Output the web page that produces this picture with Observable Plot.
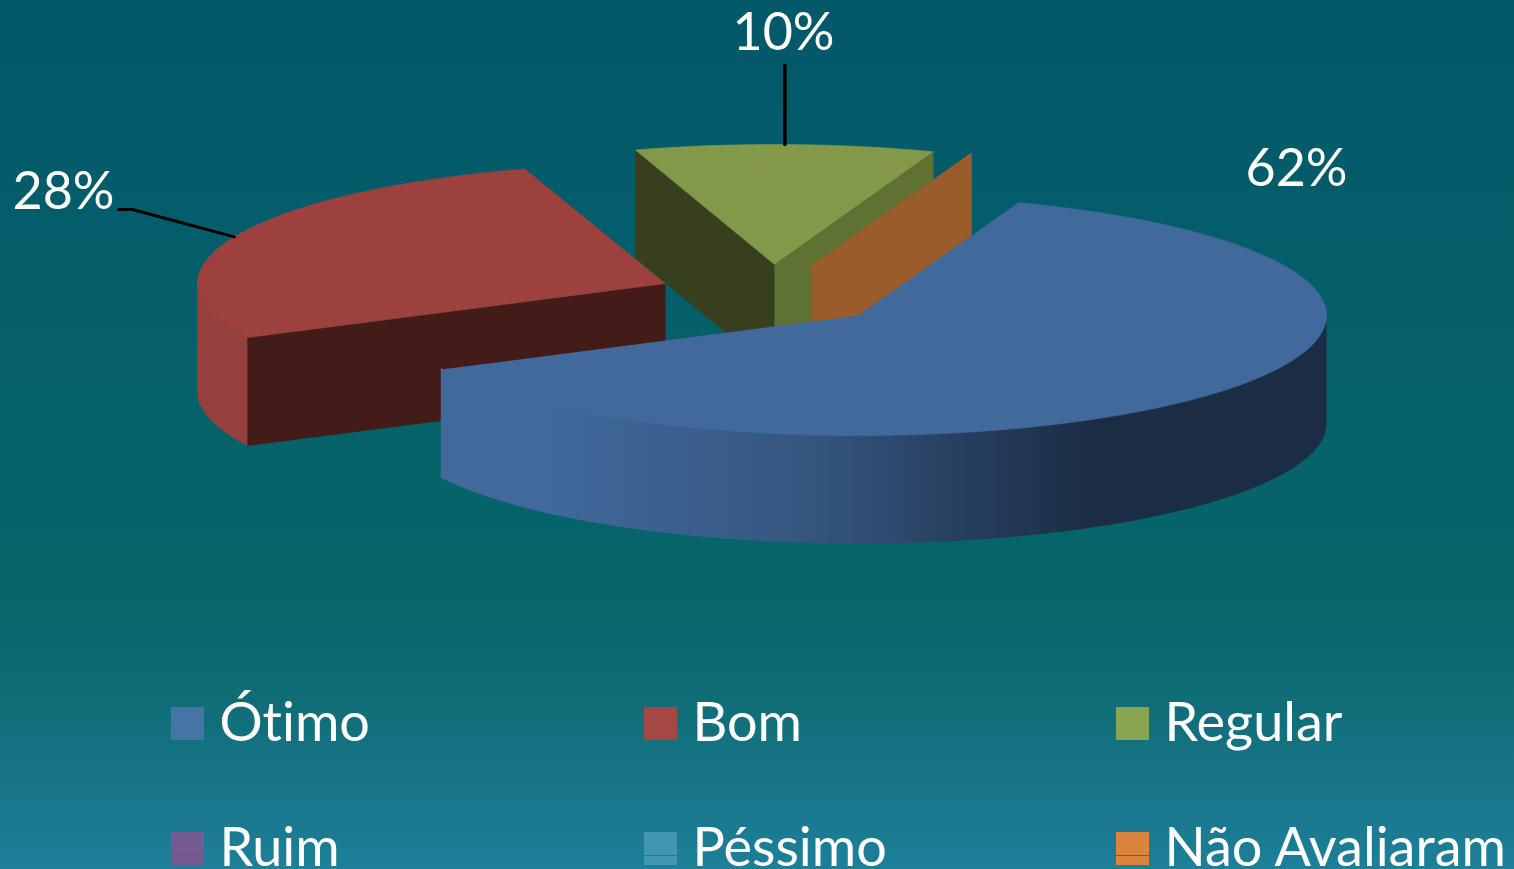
<!DOCTYPE html>
<html lang="pt">
<head>
<meta charset="utf-8">
<script src="https://cdn.jsdelivr.net/npm/d3@7"></script>
<script src="https://cdn.jsdelivr.net/npm/@observablehq/plot@0.6"></script>
<style>
html,body{margin:0;padding:0;overflow:hidden;background:#045a69}
svg{display:block}
svg text{font-variant-ligatures:none;font-feature-settings:"liga" 0,"clig" 0}
</style>
</head>
<body>
<div id="chart"></div>
<script>
// ---- data ----
const categories = ["Ótimo", "Bom", "Regular", "Ruim", "Péssimo", "Não Avaliaram"];
const values = [62, 27.6, 10.4, 0, 0, 0];
const swatchColors = ["#4674a5", "#a74745", "#89a552", "#755a91", "#4297b0", "#db843d"];
const topColors = ["#41699c", "#9c413e", "#82994a", null, null, "#995c2a"];
const frontWallColors = [null, "#431b18", "#383f1e", null, null, "#995c2a"];
const rimColors = [null, "#96403d", null, null, null, null];
const sideWallColors = [null, null, "#5f7133", null, null, null];
const pctLabels = ["62%", "28%", "10%"];

// ---- layout of the exploded 3D pie ----
const W = 1514, H = 869;
const startAngle = 20, ry = 120, depth = 108;
const radii = [468, 468, 464, 468, 468, 468];
const apexes = [[858, 315], [665, 283], [774, 264], null, null, [811, 265]];

let cum = 0;
const slices = categories.map((name, i) => {
  const a0 = startAngle + cum * 3.6;
  cum += values[i];
  return {name, i, a0, a1: startAngle + cum * 3.6, apex: apexes[i], rx: radii[i]};
});
const rim = (s, t, dz = 0) => {
  const r = t * Math.PI / 180;
  return {x: s.apex[0] + s.rx * Math.sin(r), y: s.apex[1] - ry * Math.cos(r) + dz};
};
const arc = (s, a, b, dz = 0) => {
  const n = Math.max(2, Math.ceil(Math.abs(b - a)));
  return d3.range(n + 1).map(k => rim(s, a + (b - a) * k / n, dz));
};
const P = (x, y) => ({x, y});
const radialWall = (s, t) => {
  const p = rim(s, t), q = rim(s, t, depth);
  return [P(s.apex[0], s.apex[1]), p, q, P(s.apex[0], s.apex[1] + depth)];
};
const topFace = s => [P(s.apex[0], s.apex[1]), ...arc(s, s.a0, s.a1)];
const outerWall = (s, a, b, lift = 0) => [...arc(s, a, b, -lift), ...arc(s, b, a, depth)];
const poly = (pts, fill) => Plot.line(pts, {x: "x", y: "y", fill, stroke: fill, strokeWidth: 0.6, curve: "linear"});

const [blue, red, green, , , orange] = slices;

// ---- leader lines end on the rim at each slice's middle angle ----
const mid = s => rim(s, (s.a0 + s.a1) / 2);
const leaderRed = [P(118, 209), P(132, 209), mid(red)];
const leaderGreen = [P(mid(green).x, 65), mid(green)];

// ---- labels and legend ----
const labelRows = [
  {t: pctLabels[0], x: 1296, y: 169},
  {t: pctLabels[1], x: 63, y: 192},
  {t: pctLabels[2], x: 783, y: 33}
];
const legendX = [171, 644, 1116], legendY = [707, 832], sw = 33;
const legend = categories.map((name, i) => {
  const x = legendX[i % 3], y = legendY[Math.floor(i / 3)];
  return {name, x, y, color: swatchColors[i], row: Math.floor(i / 3)};
});
const font = "Lato, Carlito, Calibri, sans-serif";

const bg = "linear-gradient(180deg,#03586a 0%,#05606a 40%,#066669 68%,#0d6b72 78%,#187589 90%,#1d7f99 100%)";

const chart = Plot.plot({
  width: W, height: H,
  margin: 0,
  x: {domain: [0, W], range: [0, W], axis: null},
  y: {domain: [0, H], range: [0, H], axis: null},
  style: {background: bg, fontFamily: font},
  marks: [
    () => {
      const ns = "http://www.w3.org/2000/svg";
      const defs = document.createElementNS(ns, "defs");
      defs.innerHTML = `<linearGradient id="wall" x1="0" x2="1" y1="0" y2="0">
        <stop offset="0.12" stop-color="#41699c"/>
        <stop offset="0.42" stop-color="#35557f"/>
        <stop offset="0.73" stop-color="#1b2d45"/>
        <stop offset="1" stop-color="#1b2d45"/></linearGradient>`;
      return defs;
    },
    // back to front: Regular, Não Avaliaram, Bom, Ótimo
    poly(radialWall(green, green.a0), frontWallColors[2]),
    poly(radialWall(green, green.a1), sideWallColors[2]),
    poly(topFace(green), topColors[2]),
    poly(radialWall(orange, orange.a0), topColors[5]),
    poly(outerWall(red, red.a0, 270), rimColors[1]),
    poly(radialWall(red, red.a0), frontWallColors[1]),
    poly(topFace(red), topColors[1]),
    Plot.line(outerWall(blue, 90, blue.a1, 1.5), {x: "x", y: "y", fill: "url(#wall)", stroke: "none", curve: "linear"}),
    poly(topFace(blue), topColors[0]),
    Plot.line(leaderRed, {x: "x", y: "y", stroke: "#000", strokeWidth: 3, curve: "linear"}),
    Plot.line(leaderGreen, {x: "x", y: "y", stroke: "#000", strokeWidth: 3.6, curve: "linear"}),
    Plot.text(labelRows, {x: "x", y: "y", text: "t", fill: "#fff", fontSize: 52, textAnchor: "middle"}),
    Plot.rect(legend, {x1: "x", x2: d => d.x + sw, y1: "y", y2: d => d.y + sw, fill: "color"}),
    Plot.ruleY(legend.filter(d => d.row === 1), {x1: "x", x2: d => d.x + sw, y: d => d.y + 23, stroke: "#3c6f7c", strokeWidth: 1}),
    Plot.text(legend, {x: d => d.x + 48, y: d => d.y + 16, text: "name", fill: "#fff", fontSize: 54, textAnchor: "start"})
  ]
});
document.getElementById("chart").append(chart);
</script>
</body>
</html>
